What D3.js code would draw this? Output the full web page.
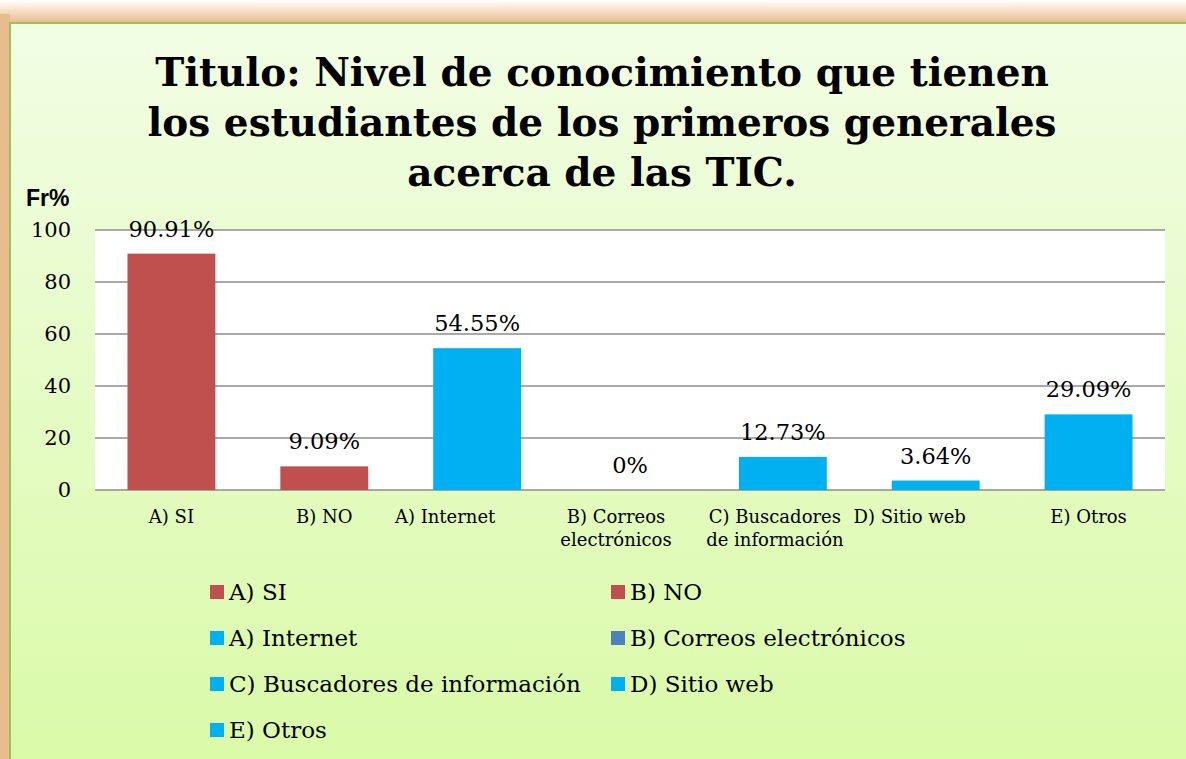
<!DOCTYPE html>
<html>
<head>
<meta charset="utf-8">
<script src="https://cdn.jsdelivr.net/npm/d3@7"></script>
<style>
  html, body { margin: 0; padding: 0; background: #fff; }
  svg { display: block; }
</style>
</head>
<body>
<div id="chart"></div>
<script>
// chart data
const categories = ['A) SI', 'B) NO', 'A) Internet', 'B) Correos electrónicos',
  'C) Buscadores de información', 'D) Sitio web', 'E) Otros'];
const values = [90.91, 9.09, 54.55, 0, 12.73, 3.64, 29.09];
const barColors = ['#C0504D', '#C0504D', '#00B0F0', '#4F81BD', '#00B0F0', '#00B0F0', '#00B0F0'];
const yTicks = [0, 20, 40, 60, 80, 100];
const titleLines = ['Titulo: Nivel de conocimiento que tienen',
  'los estudiantes de los primeros generales', 'acerca de las TIC.'];

var width = 1186,
    height = 759;
var plot = { left: 95, right: 1165, top: 230, bottom: 490 };
var serif = "'DejaVu Serif', Georgia, serif";

var svg = d3.select('#chart').append('svg')
  .attr('width', width)
  .attr('height', height);

var defs = svg.append('defs');
var bg = defs.append('linearGradient').attr('id', 'bg')
  .attr('x1', 0).attr('y1', 0).attr('x2', 0).attr('y2', 1);
bg.append('stop').attr('offset', '0%').attr('stop-color', '#F2FDE4');
bg.append('stop').attr('offset', '100%').attr('stop-color', '#D9FAA6');

var edge = defs.append('linearGradient').attr('id', 'edge')
  .attr('x1', 0).attr('y1', 0).attr('x2', 0).attr('y2', 1);
edge.append('stop').attr('offset', '0%').attr('stop-color', '#FFFFFF');
edge.append('stop').attr('offset', '40%').attr('stop-color', '#F8E2CC');
edge.append('stop').attr('offset', '100%').attr('stop-color', '#E6B888');

// frame: orange glow + green border
svg.append('rect').attr('x', 0).attr('y', 0).attr('width', width).attr('height', 24)
  .attr('fill', 'url(#edge)');
svg.append('rect').attr('x', 0).attr('y', 14).attr('width', 10).attr('height', height)
  .attr('fill', '#E8BC8C');
svg.append('rect').attr('x', 9).attr('y', 22).attr('width', width).attr('height', height)
  .attr('fill', '#9BC25A');
svg.append('rect').attr('x', 11).attr('y', 24).attr('width', width).attr('height', height)
  .attr('fill', 'url(#bg)');

// title
svg.append('text')
  .attr('x', 602).attr('y', 86)
  .attr('text-anchor', 'middle')
  .style('font-family', serif).style('font-weight', 'bold').style('font-size', '39px')
  .selectAll('tspan').data(titleLines).enter().append('tspan')
  .attr('x', 602).attr('dy', (d, i) => i === 0 ? 0 : 50)
  .text(d => d);

// axis title
svg.append('text').attr('x', 26).attr('y', 206)
  .style('font-family', "'Liberation Sans', Arial, sans-serif")
  .style('font-weight', 'bold').style('font-size', '23px')
  .text('Fr%');

var x = d3.scaleBand()
  .domain(categories)
  .range([plot.left, plot.right])
  .paddingInner(0.425).paddingOuter(0.2125);

var y = d3.scaleLinear().domain([0, 100]).range([plot.bottom, plot.top]);

svg.append('rect')
  .attr('x', plot.left).attr('y', plot.top)
  .attr('width', plot.right - plot.left).attr('height', plot.bottom - plot.top)
  .attr('fill', '#fff');

// gridlines
svg.append('g').selectAll('line').data(yTicks).enter().append('line')
  .attr('x1', plot.left).attr('x2', plot.right)
  .attr('y1', d => y(d)).attr('y2', d => y(d))
  .attr('stroke', '#8C8C8C').attr('stroke-width', 1.5);

// y tick labels
var yAxis = svg.append('g')
  .attr('transform', 'translate(' + (plot.left - 24) + ',0)')
  .call(d3.axisLeft(y).tickValues(yTicks).tickSize(0).tickPadding(0));
yAxis.select('.domain').remove();
yAxis.selectAll('text')
  .style('font-family', serif).style('font-size', '21px').attr('fill', '#000');

// bars
svg.append('g').selectAll('rect').data(values).enter().append('rect')
  .attr('x', (d, i) => x(categories[i]))
  .attr('y', d => y(d))
  .attr('width', x.bandwidth())
  .attr('height', d => y(0) - y(d))
  .attr('fill', (d, i) => barColors[i]);

// value labels
svg.append('g').selectAll('text').data(values).enter().append('text')
  .attr('x', (d, i) => x(categories[i]) + x.bandwidth() / 2)
  .attr('y', d => y(d) - 17)
  .attr('text-anchor', 'middle')
  .style('font-family', serif).style('font-size', '22.5px')
  .text(d => d + '%');

// x labels (wrapped and nudged the way Excel lays them out)
var xLabelLines = [['A) SI'], ['B) NO'], ['A) Internet'], ['B) Correos', 'electrónicos'],
  ['C) Buscadores', 'de información'], ['D) Sitio web'], ['E) Otros']];
var xLabelNudge = [0, 0, -32, -14, -8, -26, 0];
svg.append('g').selectAll('text').data(categories).enter().append('text')
  .attr('text-anchor', 'middle')
  .style('font-family', serif).style('font-size', '18px')
  .each(function(d, i) {
    var cx = x(d) + x.bandwidth() / 2 + xLabelNudge[i];
    d3.select(this).selectAll('tspan').data(xLabelLines[i]).enter().append('tspan')
      .attr('x', cx).attr('y', (t, j) => 523 + j * 23)
      .text(t => t);
  });

// legend, two columns
var legend = svg.append('g').selectAll('g').data(categories).enter().append('g')
  .attr('transform', (d, i) => 'translate(' + (i % 2 === 0 ? 210 : 611) + ',' + (585 + Math.floor(i / 2) * 46) + ')');
legend.append('rect').attr('width', 14).attr('height', 14)
  .attr('fill', (d, i) => barColors[i]);
legend.append('text').attr('x', 19).attr('y', 15)
  .style('font-family', serif).style('font-size', '23px')
  .text(d => d);
</script>
</body>
</html>
